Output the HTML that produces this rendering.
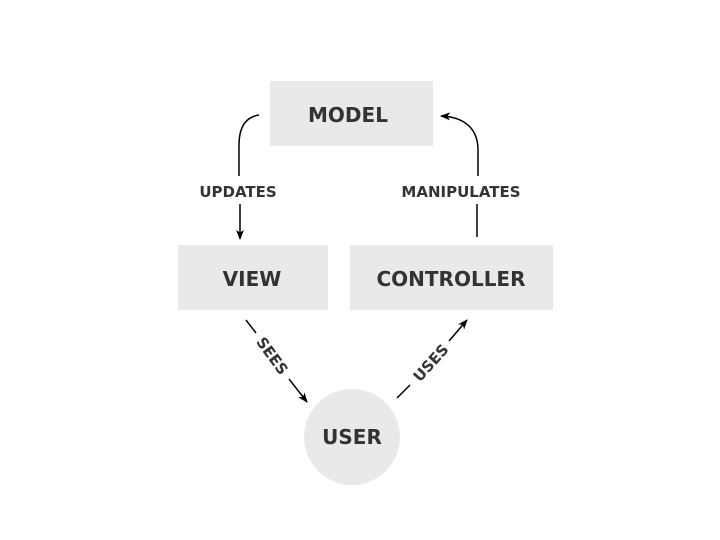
<!DOCTYPE html>
<html><head><meta charset="utf-8"><style>
html,body{margin:0;padding:0;background:#fff;}
svg{display:block;}
text{font-family:"DejaVu Sans","Liberation Sans",sans-serif;font-weight:bold;fill:#333;}
</style></head><body>
<svg width="720" height="540" viewBox="0 0 720 540" xmlns="http://www.w3.org/2000/svg">
<defs><marker id="a" markerWidth="10" markerHeight="8" refX="9" refY="4" orient="auto" markerUnits="userSpaceOnUse"><path d="M0,0 L10,4 L0,8 L2.5,4 z" fill="#000"/></marker></defs>
<rect x="270" y="81" width="163" height="65" fill="#e9e9e9"/>
<rect x="178" y="245" width="150" height="65" fill="#e9e9e9"/>
<rect x="350" y="245" width="203" height="65" fill="#e9e9e9"/>
<circle cx="352" cy="437" r="48" fill="#e9e9e9"/>
<text x="348" y="122" font-size="20" text-anchor="middle">MODEL</text>
<text x="252" y="286" font-size="20" text-anchor="middle">VIEW</text>
<text x="451" y="286" font-size="20" text-anchor="middle">CONTROLLER</text>
<text x="352" y="444" font-size="20" text-anchor="middle">USER</text>
<g stroke="#000" stroke-width="1.5" fill="none">
<path d="M259,115 C246,117 239,127 239,145 L239,176"/>
<path d="M240,204 L240,239" marker-end="url(#a)"/>
<path d="M477,237 L477,204"/>
<path d="M478,176 L478,150 C478,130 466,117 441,116" marker-end="url(#a)"/>
<path d="M246,320 L256,333"/>
<path d="M289,379 L307,402" marker-end="url(#a)"/>
<path d="M397,398 L410,385"/>
<path d="M449,341 L467,320" marker-end="url(#a)"/>
</g>
<text x="238" y="197" font-size="15" text-anchor="middle">UPDATES</text>
<text x="461" y="197" font-size="15" text-anchor="middle">MANIPULATES</text>
<text x="272" y="361" font-size="15" text-anchor="middle" transform="rotate(54 272 356)">SEES</text>
<text x="431" y="368" font-size="15" text-anchor="middle" transform="rotate(-48 431 363)">USES</text>
</svg>
</body></html>
